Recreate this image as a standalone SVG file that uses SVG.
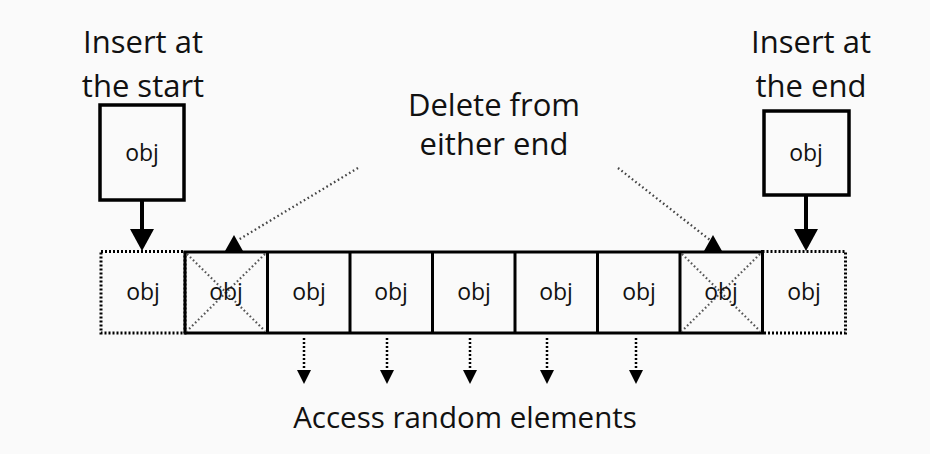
<svg xmlns="http://www.w3.org/2000/svg" width="930" height="454" viewBox="0 0 930 454">
<style>
.t{font-family:"Open Sans","Liberation Sans",sans-serif;fill:#111;text-anchor:middle}
.big{font-size:31px}
.acct{font-size:29.5px}
.obj{font-size:23px}
.box{fill:none;stroke:#000;stroke-width:3.5}
.cell{fill:none;stroke:#000;stroke-width:3}
.dcell{fill:none;stroke:#000;stroke-width:3;stroke-dasharray:2 2}
.x{stroke:#555;stroke-width:2.2;stroke-dasharray:1.6 2.6}
.dl{stroke:#444;stroke-width:2.3;stroke-dasharray:1.6 2.8;fill:none}
.acc{stroke:#000;stroke-width:2.5;stroke-dasharray:2 2}
.head{fill:#000}
</style>
<rect width="930" height="454" fill="#fafafa"/>

<g id="labels">
<text class="t big" x="143" y="53">Insert at</text>
<text class="t big" x="143" y="97">the start</text>
<text class="t big" x="811" y="53">Insert at</text>
<text class="t big" x="811" y="97">the end</text>
<text class="t big" x="494" y="116">Delete from</text>
<text class="t big" x="494" y="155">either end</text>
<text class="t acct" x="465" y="428">Access random elements</text>
</g>

<g id="new-start">
<rect class="box" x="100" y="105" width="84" height="95"/>
<text class="t obj" x="142" y="161">obj</text>
</g>
<g id="new-end">
<rect class="box" x="764" y="111" width="85" height="84"/>
<text class="t obj" x="806" y="161">obj</text>
</g>

<g id="slot-start">
<rect class="dcell" x="101" y="251.5" width="84" height="81.5"/>
<text class="t obj" x="143" y="300">obj</text>
</g>
<g id="slot-end">
<rect class="dcell" x="762.5" y="251.5" width="83" height="81.5"/>
<text class="t obj" x="804" y="300">obj</text>
</g>

<g id="cell-1">
<line class="x" x1="187" y1="254" x2="265" y2="331"/>
<line class="x" x1="265" y1="254" x2="187" y2="331"/>
<text class="t obj" x="226" y="300">obj</text>
</g>
<g id="cell-2"><text class="t obj" x="309" y="300">obj</text></g>
<g id="cell-3"><text class="t obj" x="391" y="300">obj</text></g>
<g id="cell-4"><text class="t obj" x="474" y="300">obj</text></g>
<g id="cell-5"><text class="t obj" x="556" y="300">obj</text></g>
<g id="cell-6"><text class="t obj" x="639" y="300">obj</text></g>
<g id="cell-7">
<line class="x" x1="682" y1="254" x2="760" y2="331"/>
<line class="x" x1="760" y1="254" x2="682" y2="331"/>
<text class="t obj" x="721" y="300">obj</text>
</g>
<g id="array">
<rect class="cell" x="185" y="252" width="577.5" height="81"/>
<line class="cell" x1="267.5" y1="252" x2="267.5" y2="333"/>
<line class="cell" x1="350" y1="252" x2="350" y2="333"/>
<line class="cell" x1="432.5" y1="252" x2="432.5" y2="333"/>
<line class="cell" x1="515" y1="252" x2="515" y2="333"/>
<line class="cell" x1="597.5" y1="252" x2="597.5" y2="333"/>
<line class="cell" x1="680" y1="252" x2="680" y2="333"/>
</g>

<g id="connectors">
<line x1="142" y1="200" x2="142" y2="232" stroke="#000" stroke-width="4"/>
<polygon class="head" points="130,229 154,229 142,251"/>
<line x1="806" y1="195" x2="806" y2="232" stroke="#000" stroke-width="4"/>
<polygon class="head" points="794,229 818,229 806,251"/>

<line class="dl" x1="358" y1="168" x2="238" y2="240"/>
<polygon class="head" points="234,235 225,251 243,251"/>
<line class="dl" x1="618" y1="168" x2="710" y2="240"/>
<polygon class="head" points="713,235 704,251 722,251"/>

<line class="acc" x1="304" y1="338" x2="304" y2="372"/>
<polygon class="head" points="297,370 311,370 304,384"/>
<line class="acc" x1="387" y1="338" x2="387" y2="372"/>
<polygon class="head" points="380,370 394,370 387,384"/>
<line class="acc" x1="470" y1="338" x2="470" y2="372"/>
<polygon class="head" points="463,370 477,370 470,384"/>
<line class="acc" x1="547" y1="338" x2="547" y2="372"/>
<polygon class="head" points="540,370 554,370 547,384"/>
<line class="acc" x1="636" y1="338" x2="636" y2="372"/>
<polygon class="head" points="629,370 643,370 636,384"/>
</g>
</svg>
